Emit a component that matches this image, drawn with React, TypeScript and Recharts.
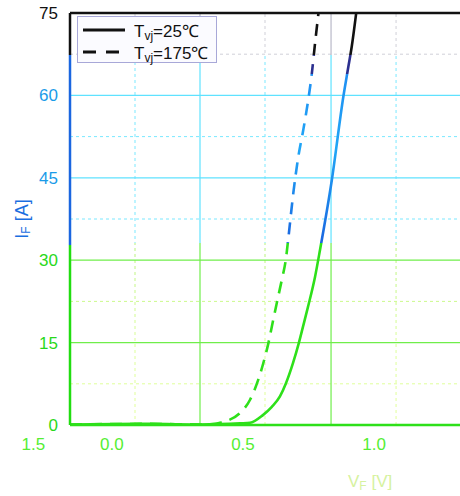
import React from 'react';
import { LineChart, Line, XAxis, YAxis, ReferenceLine, Label } from 'recharts';

// forward characteristic
const vf25 = [-0.16, 0.145, 0.336, 0.489, 0.527, 0.576, 0.61, 0.641, 0.664, 0.691, 0.713, 0.729, 0.748, 0.775, 0.794, 0.839, 0.883, 0.902, 0.915, 0.932];
const if25 = [0.1, 0.2, 0.1, 0.3, 0.4, 1.8, 3.3, 5.2, 7.6, 11.3, 14.9, 17.9, 21.5, 27.0, 31.9, 44.6, 59.8, 65.2, 68.9, 75];
const vf175 = [-0.16, 0.145, 0.336, 0.393, 0.412, 0.489, 0.527, 0.558, 0.584, 0.597, 0.61, 0.629, 0.648, 0.664, 0.673, 0.692, 0.711, 0.73, 0.749, 0.762, 0.775, 0.788];
const if175 = [0.1, 0.2, 0.1, 0.2, 0.4, 2.2, 4.6, 8.2, 12.4, 14.9, 17.9, 22.2, 26.4, 30.3, 34.0, 42.2, 48.8, 53.7, 59.2, 63.7, 69.5, 75];

const xTicks = [-0.3, 0, 0.5, 1.0];
const xTickLabels = ['1.5', '0.0', '0.5', '1.0'];
const yTicks = [0, 15, 30, 45, 60, 75];
const gridMajorX = [0.336, 0.836];
const gridMinorX = [0.088, 0.584, 1.084];
const gridMajorY = [15, 30, 45, 60];
const gridMinorY = [7.5, 22.5, 37.5, 52.5, 67.5];
const legendItems = [
  { dash: undefined, temp: '25℃' },
  { dash: '13 10', temp: '175℃' },
];

const data25 = vf25.map((v, i) => ({ v, i: if25[i] }));
const data175 = vf175.map((v, i) => ({ v, i: if175[i] }));

const FONT = '"Liberation Sans", Arial, sans-serif';

const yTickColor = (v: number) => (v >= 75 ? '#111111' : v >= 45 ? '#1a9be8' : '#2ad81a');

const YTick = ({ x, y, payload }: any) => (
  <text x={x} y={y} dy={6} textAnchor="end" fontSize={17} fontFamily={FONT} fill={yTickColor(payload.value)}>
    {payload.value}
  </text>
);

const XTick = ({ x, y, payload, index }: any) => (
  <text x={x} y={y} dy={13} textAnchor="middle" fontSize={17} fontFamily={FONT} fill="#55ee33">
    {xTickLabels[xTicks.indexOf(payload.value)] ?? xTickLabels[index]}
  </text>
);

const renderYTitle = (props: any) => {
  const vb = props.viewBox;
  const cx = vb.x + 22;
  const cy = vb.y + vb.height / 2;
  return (
    <text x={cx} y={cy} transform={`rotate(-90 ${cx} ${cy})`} textAnchor="middle" dominantBaseline="central" fontSize={18} fontFamily={FONT} fill="#1a6ee0">
      I<tspan fontSize={12} dy={4}>F</tspan><tspan dy={-4}> [A]</tspan>
    </text>
  );
};

const renderXTitle = (props: any) => {
  const vb = props.viewBox;
  return (
    <text x={vb.x + vb.width - 112} y={vb.y + 62} fontSize={17} fontFamily={FONT} fill="#d6f2a0">
      V<tspan fontSize={12} dy={3}>F</tspan><tspan dy={-3}> [V]</tspan>
    </text>
  );
};

const LegendBox = () => (
  <div
    style={{
      position: 'absolute',
      left: 77,
      top: 16,
      width: 138,
      height: 45,
      border: '1px solid #a8a8d8',
      background: '#fbfbff',
      fontFamily: FONT,
      fontSize: 17,
      color: '#111',
    }}
  >
    {legendItems.map((r, k) => (
      <div key={k} style={{ position: 'absolute', left: 4, top: 3 + k * 22, height: 20, display: 'flex', alignItems: 'center' }}>
        <svg width={44} height={6}>
          <line x1={1} y1={3} x2={43} y2={3} stroke="#111" strokeWidth={3} strokeDasharray={r.dash} />
        </svg>
        <span style={{ marginLeft: 8, whiteSpace: 'nowrap' }}>
          T<span style={{ fontSize: 12, position: 'relative', top: 3 }}>vj</span>={r.temp}
        </span>
      </div>
    ))}
  </div>
);

export default function App() {
  return (
    <div style={{ position: 'absolute', left: 0, top: 0, width: 460, height: 496, background: '#fff' }}>
      <LineChart width={460} height={496} margin={{ top: 13, right: 0, bottom: 0, left: 0 }}>
        <defs>
          <linearGradient id="curveGrad" gradientUnits="userSpaceOnUse" x1={0} y1={0} x2={0} y2={496}>
            <stop offset={0} stopColor="#111111" />
            <stop offset={0.111} stopColor="#111111" />
            <stop offset={0.111} stopColor="#2b2f8f" />
            <stop offset={0.15} stopColor="#2b2f8f" />
            <stop offset={0.15} stopColor="#1f8ff2" />
            <stop offset={0.3} stopColor="#20a6f6" />
            <stop offset={0.49} stopColor="#1a66e0" />
            <stop offset={0.49} stopColor="#2ee01a" />
            <stop offset={1} stopColor="#2ee01a" />
          </linearGradient>
          <linearGradient id="axisGrad" gradientUnits="userSpaceOnUse" x1={0} y1={0} x2={0} y2={496}>
            <stop offset={0} stopColor="#111111" />
            <stop offset={0.111} stopColor="#111111" />
            <stop offset={0.111} stopColor="#1a66e0" />
            <stop offset={0.494} stopColor="#1a66e0" />
            <stop offset={0.494} stopColor="#22dd11" />
            <stop offset={1} stopColor="#22dd11" />
          </linearGradient>
          <linearGradient id="gridGrad" gradientUnits="userSpaceOnUse" x1={0} y1={0} x2={0} y2={496}>
            <stop offset={0} stopColor="#b8b8c8" />
            <stop offset={0.111} stopColor="#b8b8c8" />
            <stop offset={0.111} stopColor="#5fe2ff" />
            <stop offset={0.49} stopColor="#5fe2ff" />
            <stop offset={0.49} stopColor="#6fee4a" />
            <stop offset={1} stopColor="#6fee4a" />
          </linearGradient>
          <linearGradient id="minorGrad" gradientUnits="userSpaceOnUse" x1={0} y1={0} x2={0} y2={496}>
            <stop offset={0} stopColor="#d0d0d8" />
            <stop offset={0.111} stopColor="#d0d0d8" />
            <stop offset={0.111} stopColor="#7ae8ff" />
            <stop offset={0.49} stopColor="#7ae8ff" />
            <stop offset={0.49} stopColor="#b6f27a" />
            <stop offset={0.7} stopColor="#dcff9a" />
            <stop offset={1} stopColor="#e8ff9a" />
          </linearGradient>
        </defs>
        <XAxis
          type="number"
          dataKey="v"
          domain={[-0.16, 1.328]}
          allowDataOverflow
          ticks={xTicks}
          interval={0}
          tickLine={false}
          tickSize={6}
          tickMargin={6}
          height={71}
          axisLine={{ stroke: '#2ee01a', strokeWidth: 2.5 }}
          tick={<XTick />}
        >
          <Label content={renderXTitle} />
        </XAxis>
        <YAxis
          type="number"
          dataKey="i"
          domain={[0, 75]}
          allowDataOverflow
          ticks={yTicks}
          interval={0}
          width={70}
          tickLine={false}
          tickSize={6}
          tickMargin={6}
          axisLine={{ stroke: 'url(#axisGrad)', strokeWidth: 2.5 }}
          tick={<YTick />}
        >
          <Label content={renderYTitle} />
        </YAxis>
        {gridMinorY.map((y) => (
          <ReferenceLine key={'my' + y} y={y} stroke="url(#minorGrad)" strokeDasharray="3 3" strokeWidth={1} />
        ))}
        {gridMinorX.map((x) => (
          <ReferenceLine key={'mx' + x} x={x} stroke="url(#minorGrad)" strokeDasharray="3 3" strokeWidth={1} />
        ))}
        {gridMajorY.map((y) => (
          <ReferenceLine key={'gy' + y} y={y} stroke="url(#gridGrad)" strokeWidth={1.2} />
        ))}
        {gridMajorX.map((x) => (
          <ReferenceLine key={'gx' + x} x={x} stroke="url(#gridGrad)" strokeWidth={1.2} />
        ))}
        <ReferenceLine y={75} stroke="#111" strokeWidth={2.5} />
        <Line
          data={data25}
          dataKey="i"
          type="monotone"
          stroke="url(#curveGrad)"
          strokeWidth={2.6}
          dot={false}
          isAnimationActive={false}
        />
        <Line
          data={data175}
          dataKey="i"
          type="monotone"
          stroke="url(#curveGrad)"
          strokeWidth={2.6}
          strokeDasharray="12 8"
          dot={false}
          isAnimationActive={false}
        />
      </LineChart>
      <LegendBox />
    </div>
  );
}
